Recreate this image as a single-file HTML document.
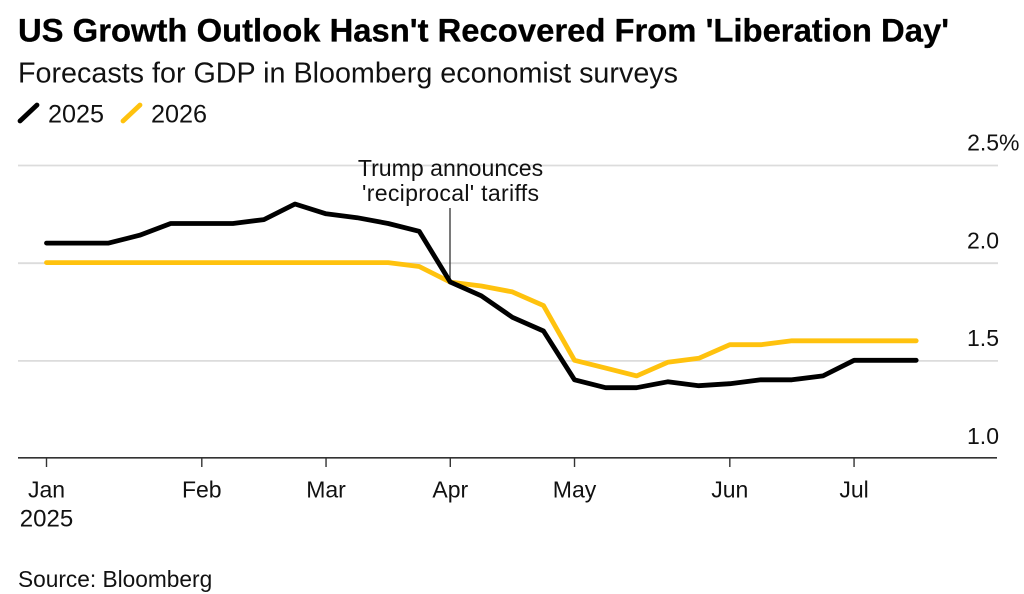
<!DOCTYPE html>
<html lang="en">
<head>
<meta charset="utf-8">
<title>US Growth Outlook</title>
<style>
html,body{margin:0;padding:0;background:#fff;}
#chart{display:block;width:1024px;height:594px;font-family:"Liberation Sans",Arial,sans-serif;fill:#111;}
</style>
</head>
<body>
<svg id="chart" xmlns="http://www.w3.org/2000/svg" width="1024" height="594" viewBox="0 0 1024 594">
  <rect x="0" y="0" width="1024" height="594" fill="#fff"/>
  <text x="18" y="41.6" font-size="32" font-weight="700" fill="#000" stroke="#000" stroke-width="0.3" textLength="931" lengthAdjust="spacingAndGlyphs">US Growth Outlook Hasn't Recovered From 'Liberation Day'</text>
  <text x="18" y="82.6" font-size="28.4" textLength="660" lengthAdjust="spacingAndGlyphs">Forecasts for GDP in Bloomberg economist surveys</text>
  <g>
    <line x1="20" y1="121" x2="37" y2="105" stroke="#000" stroke-width="4.8" stroke-linecap="round"/>
    <text x="48" y="122.4" font-size="25.2">2025</text>
    <line x1="123" y1="121" x2="140" y2="105" stroke="#ffc20e" stroke-width="4.8" stroke-linecap="round"/>
    <text x="151" y="122.4" font-size="25.2">2026</text>
  </g>
  <g id="grid"></g>
  <g id="yLabels"></g>
  <line x1="450" y1="208" x2="450" y2="281" stroke="#333" stroke-width="1.3"/>
  <g id="series"></g>
  <text x="450.5" y="176" font-size="23.1" text-anchor="middle">Trump announces</text>
  <text x="450.5" y="201" font-size="23.1" text-anchor="middle" textLength="177" lengthAdjust="spacing">'reciprocal' tariffs</text>
  <line x1="18" y1="457.8" x2="997" y2="457.8" stroke="#333" stroke-width="1.6"/>
  <g id="xAxis"></g>
  <text x="46.5" y="526.5" font-size="24" text-anchor="middle">2025</text>
  <text x="18" y="587" font-size="22.7">Source: Bloomberg</text>
</svg>
<script>
const yTicks = [1.0, 1.5, 2.0, 2.5];
const yTickLabels = ['1.0', '1.5', '2.0', '2.5%'];
const monthLabels = ['Jan', 'Feb', 'Mar', 'Apr', 'May', 'Jun', 'Jul'];
const monthSurveyIndex = [0, 5, 9, 13, 17, 22, 26];
const forecast2025 = [2.1, 2.1, 2.1, 2.14, 2.2, 2.2, 2.2, 2.22, 2.3, 2.25, 2.23, 2.2, 2.16, 1.9, 1.83, 1.72, 1.65, 1.4, 1.36, 1.36, 1.39, 1.37, 1.38, 1.4, 1.4, 1.42, 1.5, 1.5, 1.5];
const forecast2026 = [2.0, 2.0, 2.0, 2.0, 2.0, 2.0, 2.0, 2.0, 2.0, 2.0, 2.0, 2.0, 1.98, 1.9, 1.88, 1.85, 1.78, 1.5, 1.46, 1.42, 1.49, 1.51, 1.58, 1.58, 1.6, 1.6, 1.6, 1.6, 1.6];

const NS = 'http://www.w3.org/2000/svg';
function xScale(i) { return 46.5 + i * 31.06; }
function yScale(v) { return 458 - (v - 1.0) * 195.4; }
function make(tag, attrs, parent) {
  const el = document.createElementNS(NS, tag);
  for (const k in attrs) el.setAttribute(k, attrs[k]);
  parent.appendChild(el);
  return el;
}

const gridGroup = document.getElementById('grid');
const yGroup = document.getElementById('yLabels');
yTicks.forEach(function (t, i) {
  if (t !== yTicks[0]) {
    const g = make('line', { x1: 18, x2: 998, y1: yScale(t) + 0.6, y2: yScale(t) + 0.6, stroke: '#dcdcdc', 'stroke-width': 1.8 }, gridGroup);
    
    
  }
  const lab = make('text', { x: t === 2.5 ? 1019.5 : 999, y: yScale(t) - 14.2, 'font-size': 23, 'text-anchor': 'end' }, yGroup);
  
  
  lab.textContent = yTickLabels[i];
});

const xGroup = document.getElementById('xAxis');
monthLabels.forEach(function (m, i) {
  const x = xScale(monthSurveyIndex[i]);
  const tick = make('line', { x1: x, x2: x, y1: 458, y2: 467, stroke: '#333', 'stroke-width': 1.4 }, xGroup);
  
  
  const lab = make('text', { x: x, y: 497.5, 'font-size': 23, 'text-anchor': 'middle' }, xGroup);
  
  
  lab.textContent = m;
});

const seriesGroup = document.getElementById('series');
function pointsOf(values) {
  return values.map(function (v, i) { return xScale(i).toFixed(1) + ',' + yScale(v).toFixed(1); }).join(' ');
}
const line2026 = make('polyline', { points: pointsOf(forecast2026), fill: 'none', stroke: '#ffc20e', 'stroke-width': 4.8, 'stroke-linejoin': 'round', 'stroke-linecap': 'round' }, seriesGroup);


const line2025 = make('polyline', { points: pointsOf(forecast2025), fill: 'none', stroke: '#000', 'stroke-width': 4.8, 'stroke-linejoin': 'round', 'stroke-linecap': 'round' }, seriesGroup);


</script>
</body>
</html>
